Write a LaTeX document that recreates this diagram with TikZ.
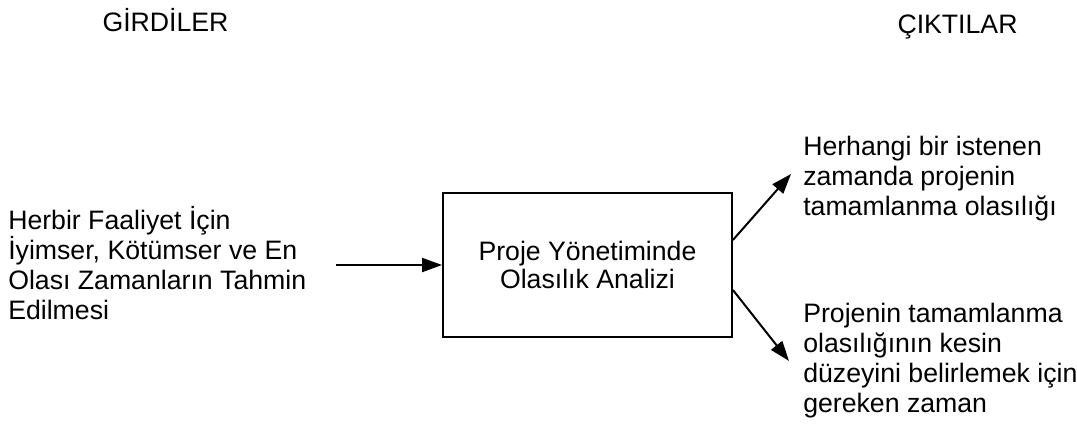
\documentclass[tikz,border=0pt]{standalone}
\usepackage{fontspec}
\setmainfont{Liberation Sans}
\usetikzlibrary{arrows.meta}
\tikzset{
  lbl/.style={font=\fontsize{20pt}{22.5pt}\selectfont, inner sep=0pt, align=left},
  ttl/.style={font=\fontsize{20pt}{22.5pt}\selectfont, inner sep=0pt},
  procbox/.style={draw=black, line width=1.4pt, minimum width=216.75pt, minimum height=108pt,
    inner sep=0pt, align=center, font=\fontsize{20pt}{21pt}\selectfont},
  arr/.style={line width=1.5pt, -{Triangle[length=15pt,width=10.5pt]}}
}
\begin{document}
\begin{tikzpicture}[x=0.75pt,y=-0.75pt]
\useasboundingbox (0,0) rectangle (1077,426);
\node[ttl, anchor=base] (girdi) at (165.5,31.5) {GİRDİLER};
\node[ttl, anchor=base] (cikti) at (957.5,33) {ÇIKTILAR};
\node[lbl, anchor=base west] (inp) at (8,319) {Herbir Faaliyet İçin\\İyimser, Kötümser ve En\\Olası Zamanların Tahmin\\Edilmesi};
\node[procbox] (box) at (587.5,265) {Proje Yönetiminde\\Olasılık Analizi};
\node[lbl, anchor=base west] (out1) at (803,215) {Herhangi bir istenen\\zamanda projenin\\tamamlanma olasılığı};
\node[lbl, anchor=base west] (out2) at (803,412) {Projenin tamamlanma\\olasılığının kesin\\düzeyini belirlemek için\\gereken zaman};
\coordinate (inStart) at (336,265);
\coordinate (tip1) at (791,174);
\coordinate (tip2) at (789,361);
\draw[arr] (inStart) -- (box.west);
\draw[arr] ([yshift=18.75pt]box.east) -- (tip1);
\draw[arr] ([yshift=-18.75pt]box.east) -- (tip2);
\end{tikzpicture}
\end{document}
